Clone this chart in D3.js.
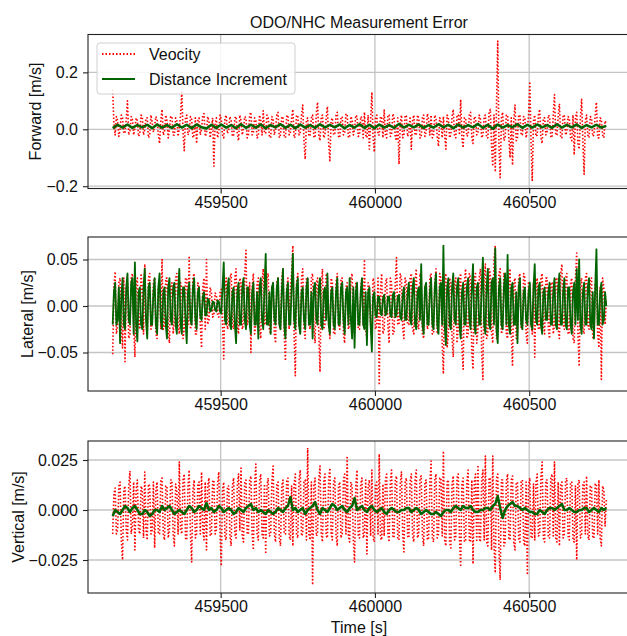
<!DOCTYPE html>
<html>
<head>
<meta charset="utf-8">
<script src="https://cdn.jsdelivr.net/npm/d3@7"></script>
<style>
  body { margin: 0; background: #fff; }
  text { font-family: "Liberation Sans", Arial, sans-serif; }
</style>
</head>
<body>
<div id="chart"></div>
<script>
// time span of the recording [s]
var tStart = 459150;
var tEnd = 460750;

// forward error, velocity based (red dotted) and distance increment based (green)
var forwardVel = [
  0.14, 0.02, -0.02, 0.045, 0.03, -0.025, 0.00, 0.05, 0.04, -0.015, -0.01, 0.035, 0.10, -0.02, -0.005, 0.045, 0.035, -0.02, 0.005, 0.04,
  0.03, -0.025, -0.015, 0.05, 0.045, -0.02, 0.00, 0.04, 0.04, -0.03, -0.02, 0.05, 0.025, -0.01, 0.01, 0.045, 0.035, -0.02, -0.05, 0.03,
  0.07, -0.02, -0.01, 0.05, 0.03, -0.03, 0.00, 0.045, 0.045, -0.02, -0.02, 0.04, 0.03, -0.025, 0.005, 0.05, 0.13, -0.01, -0.075, 0.04,
  0.05, -0.02, -0.01, 0.045, 0.035, -0.03, -0.02, 0.04, -0.05, 0.03, 0.04, -0.02, 0.00, 0.05, 0.055, -0.025, -0.015, 0.045, 0.03, -0.03,
  0.00, 0.04, -0.13, 0.02, 0.04, -0.03, -0.01, 0.05, 0.035, -0.02, -0.03, 0.04, 0.05, -0.015, 0.00, 0.045, 0.03, -0.025, -0.02, 0.04,
  0.045, -0.015, -0.04, 0.05, 0.03, -0.02, 0.005, 0.045, 0.04, -0.03, -0.02, 0.05, 0.06, -0.02, -0.01, 0.04, 0.035, -0.03, -0.025, 0.05,
  0.03, -0.02, 0.065, -0.01, -0.015, 0.05, 0.04, -0.025, -0.03, 0.045, 0.035, -0.02, 0.00, 0.05, 0.06, -0.03, -0.02, 0.045, 0.04, -0.025,
  -0.03, 0.045, 0.05, -0.02, -0.01, 0.04, 0.07, -0.03, -0.025, 0.05, 0.045, -0.02, -0.01, 0.05, 0.085, -0.04, -0.105, 0.03, 0.04, -0.025,
  -0.02, 0.04, 0.05, -0.025, -0.03, 0.055, 0.095, -0.02, -0.04, 0.045, 0.05, -0.03, -0.02, 0.04, 0.08, -0.05, -0.11, 0.03, 0.04, -0.02,
  -0.015, 0.05, 0.06, -0.025, -0.03, 0.04, 0.045, -0.02, -0.01, 0.055, 0.05, -0.03, -0.025, 0.045, 0.035, -0.02, 0.00, 0.05, 0.045, -0.025,
  -0.02, 0.045, 0.04, -0.03, 0.06, -0.02, -0.03, 0.05, -0.07, 0.03, 0.13, -0.03, -0.08, 0.04, 0.05, -0.02, -0.02, 0.045, 0.04, -0.03,
  0.07, -0.02, -0.03, 0.05, 0.05, -0.025, -0.02, 0.055, 0.045, -0.03, -0.04, 0.04, -0.123, 0.02, 0.05, -0.03, -0.02, 0.05, 0.045, -0.025,
  -0.01, 0.045, -0.07, 0.03, 0.05, -0.02, -0.02, 0.05, 0.04, -0.03, -0.03, 0.045, 0.05, -0.025, -0.01, 0.055, 0.035, -0.02, 0.05, -0.03,
  -0.02, 0.05, 0.04, -0.025, -0.06, 0.04, 0.03, -0.03, 0.045, -0.02, -0.07, 0.05, 0.04, -0.03, -0.02, 0.045, 0.07, -0.025, -0.03, 0.05,
  0.05, -0.02, 0.105, -0.03, -0.065, 0.04, 0.04, -0.025, -0.02, 0.05, 0.06, -0.03, -0.05, 0.045, 0.04, -0.02, -0.01, 0.05, 0.035, -0.03,
  -0.02, 0.045, 0.05, -0.03, -0.03, 0.06, 0.07, -0.06, -0.13, 0.05, -0.15, 0.08, 0.31, -0.05, -0.17, 0.04, 0.06, -0.04, -0.03, 0.05,
  0.05, -0.03, -0.10, 0.04, -0.126, 0.03, 0.085, -0.04, -0.03, 0.05, 0.05, -0.02, -0.02, 0.045, 0.04, -0.03, 0.00, 0.05, 0.168, -0.04,
  -0.18, 0.03, 0.05, -0.025, -0.02, 0.05, 0.07, -0.03, -0.05, 0.04, 0.04, -0.02, -0.01, 0.05, 0.045, -0.025, -0.03, 0.05, 0.122, -0.02,
  -0.02, 0.045, 0.09, -0.03, -0.03, 0.05, 0.05, -0.02, -0.01, 0.045, 0.04, -0.03, -0.04, 0.05, -0.09, 0.04, 0.06, -0.05, -0.07, 0.04,
  0.105, -0.04, -0.158, 0.03, 0.05, -0.02, -0.03, 0.045, 0.04, -0.025, -0.02, 0.05, 0.095, -0.03, -0.03, 0.04, 0.035, -0.02, -0.03, 0.03,
  0.02
];
var forwardDist = [
  0.004, 0.016, 0.006, 0.017, 0.005, 0.015, 0.007, 0.016, 0.004, 0.017,
  0.006, 0.015, 0.005, 0.018, 0.006, 0.016, 0.004, 0.017, 0.007, 0.003,
  0.016, 0.005, 0.017, 0.006, 0.015, 0.004, 0.018, 0.005, 0.016, 0.006,
  0.017, 0.004, 0.015, 0.007, 0.018, 0.005, 0.016, 0.004, 0.017, 0.006,
  0.015, 0.005, 0.018, 0.006, 0.016, 0.007, 0.017, 0.004, 0.015, 0.006,
  0.018, 0.005, 0.016, 0.004, 0.017, 0.006, 0.015, 0.005, 0.019, 0.006,
  0.016, 0.007, 0.017, 0.005, 0.015, 0.006, 0.018, 0.007, 0.016, 0.004,
  0.017, 0.006, 0.015, 0.007, 0.019, 0.005, 0.016, 0.002, 0.017, 0.006,
  0.015, 0.007, 0.018, 0.005, 0.016, 0.006, 0.017, 0.007, 0.015, 0.005,
  0.018, 0.006, 0.016, 0.007, 0.017, 0.005, 0.015, 0.007, 0.016, 0.006,
  0.012
];

// lateral error
var lateralVel = [
  -0.052, 0.02, 0.037, -0.03, -0.02, 0.025, 0.03, -0.02, -0.045, 0.03, -0.06, 0.02, 0.025, -0.035, -0.03, 0.03, 0.035, -0.02, -0.055, 0.025,
  0.03, -0.02, -0.025, 0.035, 0.02, -0.03, 0.045, -0.015, -0.03, 0.03, 0.035, -0.025, -0.02, 0.025, 0.03, -0.03, -0.035, 0.02, 0.025, -0.025,
  0.05, -0.025, -0.02, 0.03, 0.03, -0.025, -0.04, 0.02, 0.025, -0.03, -0.015, 0.03, 0.035, -0.02, -0.03, 0.025, 0.02, -0.035, -0.025, 0.03,
  0.03, -0.02, 0.054, -0.025, -0.02, 0.03, 0.035, -0.03, -0.03, 0.025, 0.02, -0.02, -0.045, 0.02, 0.03, -0.025, 0.05, -0.02, -0.015, 0.02,
  0.015, -0.012, -0.01, 0.014, 0.012, -0.01, -0.012, 0.015, 0.018, -0.02, -0.057, 0.02, 0.03, -0.025, -0.02, 0.03, 0.035, -0.02, -0.025, 0.03,
  0.04, -0.02, -0.03, 0.03, 0.025, -0.025, -0.02, 0.035, 0.06, -0.02, -0.015, 0.025, -0.05, 0.02, 0.035, -0.03, -0.02, 0.025, 0.03, -0.025,
  -0.035, 0.025, 0.04, -0.02, -0.02, 0.03, 0.035, -0.025, -0.03, 0.02, 0.025, -0.03, -0.04, 0.025, 0.03, -0.02, -0.025, 0.03, 0.04, -0.03,
  -0.059, 0.02, 0.03, -0.025, 0.02, 0.035, 0.065, -0.03, -0.075, 0.025, 0.035, -0.02, -0.03, 0.03, 0.04, -0.025, -0.035, 0.03, 0.03, -0.02,
  -0.025, 0.03, 0.035, -0.02, -0.04, 0.025, 0.03, -0.03, -0.071, 0.02, 0.04, -0.025, -0.02, 0.035, 0.03, -0.02, -0.035, 0.03, 0.025, -0.03,
  -0.03, 0.025, 0.035, -0.02, -0.025, 0.03, 0.03, -0.03, -0.04, 0.02, 0.025, -0.025, -0.02, 0.03, 0.035, -0.02, -0.03, 0.025, 0.02, -0.025,
  -0.025, 0.02, 0.03, -0.02, 0.05, -0.025, -0.035, 0.025, 0.02, -0.02, -0.03, 0.03, 0.025, -0.025, -0.02, 0.03, -0.085, 0.02, 0.035, -0.03,
  -0.025, 0.025, 0.03, -0.02, -0.04, 0.03, 0.025, -0.03, -0.03, 0.025, 0.052, -0.02, -0.02, 0.035, 0.03, -0.025, -0.035, 0.03, 0.025, -0.02,
  -0.02, 0.03, 0.035, -0.025, -0.03, 0.025, 0.04, -0.02, -0.025, 0.035, 0.03, -0.03, -0.035, 0.02, 0.025, -0.025, -0.02, 0.03, 0.035, -0.03,
  -0.03, 0.025, 0.04, -0.03, -0.025, 0.035, 0.03, -0.04, -0.073, 0.03, 0.035, -0.045, -0.03, 0.03, 0.025, -0.035, -0.055, 0.025, 0.03, -0.04,
  -0.025, 0.03, 0.035, -0.045, -0.068, 0.025, 0.04, -0.035, -0.03, 0.035, 0.03, -0.05, -0.068, 0.03, 0.035, -0.04, -0.025, 0.03, 0.04, -0.05,
  -0.079, 0.03, 0.045, -0.035, -0.03, 0.04, 0.035, -0.03, -0.04, 0.05, 0.065, -0.035, -0.03, 0.035, 0.04, -0.03, -0.025, 0.035, 0.03, -0.03,
  -0.035, 0.03, 0.04, -0.03, -0.065, 0.025, 0.03, -0.035, -0.03, 0.03, 0.035, -0.025, -0.025, 0.035, 0.03, -0.03, -0.04, 0.025, 0.025, -0.02,
  -0.03, 0.025, -0.055, 0.02, 0.03, -0.025, -0.025, 0.03, 0.035, -0.02, -0.03, 0.03, 0.03, -0.025, -0.035, 0.025, 0.025, -0.03, -0.02, 0.03,
  0.03, -0.025, -0.035, 0.035, 0.045, -0.02, -0.025, 0.03, 0.035, -0.03, -0.03, 0.025, 0.03, -0.035, -0.04, 0.03, 0.057, -0.03, -0.065, 0.025,
  0.03, -0.025, -0.03, 0.03, 0.035, -0.02, -0.025, 0.03, 0.03, -0.035, -0.035, 0.025, 0.025, -0.03, -0.045, 0.02, -0.079, 0.03, 0.02, -0.02,
  0.005
];
var lateralDist = [
  -0.02, 0.015, 0.025, -0.02, -0.015, 0.02, -0.04, 0.01, 0.03, -0.02, -0.025, 0.02, 0.035, -0.015, -0.02, 0.025, 0.03, -0.03, 0.047, -0.02,
  -0.038, 0.015, 0.02, -0.02, -0.025, 0.02, 0.04, -0.015, -0.035, 0.02, 0.025, -0.02, -0.02, 0.015, 0.03, -0.02, -0.03, 0.02, 0.035, -0.015,
  -0.025, 0.015, 0.02, -0.02, -0.035, 0.02, 0.03, -0.015, -0.02, 0.02, 0.025, -0.02, -0.03, 0.015, 0.04, -0.02, -0.03, 0.02, 0.02, -0.015,
  -0.04, 0.015, 0.025, -0.015, -0.02, 0.02, 0.03, -0.015, -0.025, 0.015, 0.02, -0.012, -0.015, 0.01, 0.015, -0.01, -0.01, 0.008, 0.006, -0.006,
  -0.005, 0.005, 0.004, -0.004, -0.006, 0.006, 0.005, -0.006, -0.008, 0.02, 0.047, -0.015, -0.02, 0.02, 0.03, -0.02, -0.025, 0.015, 0.02, -0.02,
  -0.04, 0.015, 0.025, -0.02, -0.02, 0.02, 0.03, -0.015, -0.025, 0.02, 0.02, -0.02, -0.03, 0.015, 0.025, -0.02, -0.02, 0.015, -0.035, 0.02,
  0.03, -0.015, -0.025, 0.02, 0.056, -0.02, -0.02, 0.015, -0.03, 0.02, 0.025, -0.015, -0.02, 0.02, 0.03, -0.02, -0.025, 0.015, 0.04, -0.02,
  -0.035, 0.015, 0.025, -0.02, -0.02, 0.02, 0.056, -0.015, -0.025, 0.02, 0.03, -0.02, -0.03, 0.015, 0.02, -0.015, -0.025, 0.02, 0.03, -0.02,
  -0.02, 0.015, -0.035, 0.02, 0.025, -0.015, -0.02, 0.02, 0.03, -0.02, -0.025, 0.015, 0.02, -0.015, 0.035, -0.02, -0.03, 0.015, 0.02, -0.02,
  -0.025, 0.015, 0.03, -0.02, -0.02, 0.02, 0.025, -0.015, -0.03, 0.015, 0.02, -0.02, 0.03, -0.015, -0.035, 0.02, -0.045, 0.015, 0.025, -0.02,
  -0.02, 0.015, 0.03, -0.02, -0.025, 0.015, -0.042, 0.015, 0.02, -0.02, -0.049, 0.01, 0.015, -0.01, -0.012, 0.01, 0.01, -0.008, -0.01, 0.008,
  0.012, -0.01, -0.008, 0.01, 0.01, -0.01, -0.012, 0.012, 0.015, -0.012, -0.01, 0.01, 0.012, -0.012, -0.015, 0.012, 0.02, -0.015, -0.015, 0.015,
  0.025, -0.015, -0.02, 0.02, 0.03, -0.02, -0.025, 0.015, 0.02, -0.015, 0.045, -0.02, -0.03, 0.02, 0.025, -0.02, -0.02, 0.015, 0.03, -0.02,
  -0.025, 0.02, 0.035, -0.02, -0.03, 0.02, 0.025, -0.02, 0.065, -0.02, -0.042, 0.02, 0.03, -0.02, -0.025, 0.02, 0.035, -0.015, -0.02, 0.02,
  0.03, -0.02, -0.035, 0.015, 0.025, -0.02, -0.02, 0.02, 0.03, -0.015, -0.025, 0.02, 0.045, -0.02, -0.03, 0.02, 0.025, -0.02, -0.02, 0.02,
  0.052, -0.02, -0.03, 0.02, 0.04, -0.02, -0.025, 0.025, 0.03, -0.02, 0.062, -0.025, -0.04, 0.02, 0.03, -0.02, -0.025, 0.02, 0.035, -0.02,
  0.055, -0.02, -0.03, 0.02, 0.025, -0.02, -0.02, 0.015, -0.04, 0.02, 0.03, -0.02, -0.025, 0.015, 0.02, -0.015, -0.02, 0.015, 0.025, -0.02,
  -0.025, 0.02, 0.045, -0.015, -0.02, 0.02, 0.025, -0.02, -0.03, 0.015, 0.02, -0.015, -0.015, 0.015, 0.025, -0.02, -0.02, 0.015, 0.03, -0.02,
  -0.025, 0.02, 0.035, -0.02, -0.02, 0.015, 0.03, -0.02, -0.025, 0.02, 0.02, -0.02, -0.03, 0.015, 0.025, -0.02, 0.04, -0.015, 0.05, -0.02,
  -0.03, 0.015, 0.025, -0.02, -0.02, 0.02, 0.03, -0.02, -0.025, 0.015, -0.035, 0.02, 0.061, -0.02, -0.02, 0.015, 0.025, -0.02, -0.015, 0.015,
  0.0
];

// vertical error
var verticalVel = [
  -0.012, 0.008, 0.011, -0.012, -0.01, 0.012, 0.014, -0.015, -0.025, 0.01, 0.012, -0.01, -0.015, 0.012, 0.0195, -0.012, -0.008, 0.014, -0.02, 0.01,
  0.015, -0.01, -0.012, 0.012, 0.01, -0.014, 0.019, -0.01, -0.015, 0.013, 0.012, -0.012, -0.01, 0.014, -0.019, 0.01, 0.014, -0.012, -0.012, 0.015,
  0.016, -0.012, -0.015, 0.012, 0.012, -0.014, -0.01, 0.015, 0.015, -0.012, -0.018, 0.013, 0.01, -0.012, 0.024, -0.01, -0.012, 0.015, 0.018, -0.014,
  -0.015, 0.012, 0.02, -0.012, -0.026, 0.01, 0.015, -0.014, -0.012, 0.013, 0.014, -0.012, 0.019, -0.01, -0.015, 0.014, -0.02, 0.012, 0.016, -0.013,
  -0.012, 0.014, 0.015, -0.012, -0.01, 0.013, 0.019, -0.012, -0.028, 0.01, 0.014, -0.014, -0.015, 0.012, 0.012, -0.013, -0.018, 0.012, 0.016, -0.012,
  -0.014, 0.012, 0.018, -0.01, 0.021, -0.013, -0.016, 0.014, 0.015, -0.012, -0.012, 0.015, 0.017, -0.012, -0.02, 0.013, 0.023, -0.012, -0.015, 0.014,
  0.018, -0.012, -0.014, 0.013, -0.022, 0.012, 0.016, -0.013, -0.012, 0.014, 0.022, -0.012, -0.016, 0.013, 0.014, -0.014, -0.018, 0.012, 0.015, -0.012,
  -0.012, 0.014, 0.016, -0.013, -0.015, 0.012, -0.018, 0.013, 0.018, -0.012, -0.014, 0.015, 0.02, -0.013, -0.012, 0.014, 0.015, -0.015, 0.031, -0.012,
  -0.015, 0.014, -0.0375, 0.012, 0.016, -0.013, -0.012, 0.015, 0.022, -0.012, -0.016, 0.014, 0.018, -0.013, -0.014, 0.015, 0.021, -0.012, -0.015, 0.014,
  0.016, -0.013, -0.018, 0.012, 0.014, -0.014, -0.012, 0.015, 0.018, -0.012, 0.027, -0.013, -0.016, 0.014, 0.012, -0.015, -0.026, 0.012, 0.02, -0.013,
  -0.014, 0.013, 0.016, -0.014, -0.012, 0.015, -0.022, 0.012, 0.015, -0.013, 0.02, -0.014, -0.016, 0.013, 0.014, -0.012, 0.028, -0.014, -0.015, 0.013,
  -0.013, 0.015, 0.018, -0.012, -0.016, 0.014, 0.02, -0.013, -0.014, 0.015, 0.017, -0.014, -0.015, 0.013, 0.019, -0.012, -0.021, 0.014, 0.016, -0.013,
  -0.014, 0.014, 0.018, -0.013, -0.016, 0.015, 0.02, -0.014, -0.012, 0.016, 0.017, -0.013, -0.018, 0.014, 0.015, -0.015, -0.014, 0.013, 0.0245, -0.014,
  -0.016, 0.015, 0.018, -0.014, -0.012, 0.016, 0.016, -0.013, 0.0295, -0.015, -0.018, 0.014, 0.015, -0.016, -0.019, 0.013, 0.017, -0.015, -0.014, 0.016,
  0.018, -0.014, -0.0285, 0.013, 0.016, -0.016, -0.015, 0.014, 0.02, -0.015, -0.016, 0.015, -0.027, 0.014, 0.018, -0.016, 0.0225, -0.014, -0.016, 0.015,
  0.02, -0.015, 0.027, -0.016, -0.018, 0.016, 0.016, -0.02, 0.027, -0.018, -0.0315, 0.016, 0.018, -0.02, -0.035, 0.015, 0.015, -0.018, -0.016, 0.014,
  0.018, -0.014, -0.015, 0.015, 0.017, -0.016, -0.02, 0.013, 0.014, -0.015, -0.016, 0.014, 0.015, -0.016, -0.018, 0.014, -0.0325, 0.012, 0.016, -0.014,
  -0.014, 0.013, -0.015, 0.014, 0.018, -0.013, -0.012, 0.016, 0.024, -0.014, -0.016, 0.015, 0.015, -0.014, -0.014, 0.016, 0.018, -0.013, 0.024, -0.014,
  -0.016, 0.014, -0.018, 0.013, 0.014, -0.014, -0.012, 0.015, 0.016, -0.013, -0.015, 0.014, 0.014, -0.015, -0.016, 0.012, -0.025, 0.013, 0.015, -0.014,
  -0.012, 0.013, 0.014, -0.012, 0.017, -0.013, -0.015, 0.012, 0.012, -0.014, -0.014, 0.013, 0.013, -0.012, 0.015, -0.014, -0.018, 0.012, 0.01, -0.008,
  0.005
];
var verticalDist = [
  -0.003, 0.000, -0.001, -0.002, 0.000, 0.002, 0.001, -0.001, 0.001, 0.002, 0.000, -0.002, -0.002, 0.000, -0.001, -0.003, -0.002, 0.000, 0.000, -0.001,
  0.002, 0.000, 0.001, 0.002, 0.000, -0.002, -0.001, 0.000, -0.001, -0.002, 0.000, 0.002, 0.001, -0.001, 0.000, 0.002, 0.001, 0.000, 0.0035, 0.000,
  0.001, -0.001, 0.000, 0.002, 0.001, -0.001, 0.000, 0.001, 0.000, -0.002, -0.001, 0.001, 0.000, -0.001, 0.001, 0.002, 0.003, 0.000, 0.001, -0.001,
  0.000, -0.001, -0.002, 0.000, -0.001, -0.002, -0.001, 0.001, 0.000, -0.001, 0.001, 0.002, 0.0065, 0.000, 0.001, -0.001, 0.000, 0.001, -0.002, 0.000,
  0.001, 0.002, 0.004, 0.000, -0.002, 0.001, 0.000, -0.001, 0.001, 0.003, 0.002, 0.000, 0.001, 0.002, 0.000, -0.001, 0.001, 0.002, 0.006, 0.000,
  0.001, 0.002, 0.000, -0.001, 0.001, 0.002, 0.000, -0.001, 0.000, 0.001, -0.001, -0.002, 0.000, 0.001, 0.000, -0.001, -0.001, 0.000, 0.000, 0.001,
  0.001, -0.001, 0.000, 0.001, 0.000, -0.002, -0.001, 0.000, -0.001, -0.002, -0.002, -0.001, -0.002, -0.003, -0.001, 0.000, 0.000, -0.001, 0.001, 0.002,
  0.001, 0.000, 0.002, 0.001, 0.001, 0.002, 0.000, -0.001, -0.001, 0.000, 0.000, 0.001, 0.001, 0.000, 0.002, 0.003, 0.007, 0.001, -0.004, 0.000,
  0.002, 0.003, 0.004, 0.002, 0.002, 0.001, 0.000, 0.001, 0.000, -0.001, -0.001, -0.002, -0.002, 0.000, -0.001, -0.002, 0.000, 0.001, 0.001, 0.000,
  0.001, 0.002, 0.003, 0.000, 0.000, 0.001, 0.000, -0.001, -0.001, 0.000, 0.000, 0.001, 0.001, -0.001, 0.000, 0.001, 0.000, -0.001, 0.001, 0.000,
  0.001
];

// tick labels
var xTicks = [459500, 460000, 460500];
var forwardTicks = [-0.2, 0.0, 0.2];
var lateralTicks = [-0.05, 0.0, 0.05];
var verticalTicks = [-0.025, 0.0, 0.025];

var seriesNames = ["Veocity", "Distance Increment"];

var svgWidth = 627;
var svgHeight = 636;
var velColor = "#ff0000";
var distColor = "#006400";
var dotDash = "1.5,2";

var svg = d3.select("#chart")
  .append("svg")
  .attr("width", svgWidth)
  .attr("height", svgHeight);

// shared time axis, right spine falls just outside the picture
var xScale = d3.scaleLinear()
  .domain([459070, 460830])
  .range([88, 631]);

var panels = [
  { vel: forwardVel, dist: forwardDist, ticks: forwardTicks, fmt: ".1f",
    label: "Forward [m/s]", domain: [-0.208, 0.333], top: 34.5, bottom: 188.5, labelX: 41, distWidth: 2.5 },
  { vel: lateralVel, dist: lateralDist, ticks: lateralTicks, fmt: ".2f",
    label: "Lateral [m/s]", domain: [-0.0914, 0.0742], top: 237, bottom: 391, labelX: 33, distWidth: 1.8 },
  { vel: verticalVel, dist: verticalDist, ticks: verticalTicks, fmt: ".3f",
    label: "Vertical [m/s]", domain: [-0.0415, 0.0345], top: 441, bottom: 593, labelX: 24, distWidth: 2.5 }
];

// index -> time stamp for an evenly sampled series
function toPoints(vals) {
  var step = (tEnd - tStart) / (vals.length - 1);
  return vals.map(function(v, i) {
    return [tStart + i * step, v];
  });
}

panels.forEach(function(p) {
  var yScale = d3.scaleLinear()
    .domain(p.domain)
    .range([p.bottom, p.top]);

  var g = svg.append("g");

  // grid lines
  g.selectAll("line.vgrid")
    .data(xTicks)
    .enter()
    .append("line")
    .attr("x1", function(d) { return xScale(d); })
    .attr("x2", function(d) { return xScale(d); })
    .attr("y1", p.top)
    .attr("y2", p.bottom)
    .attr("stroke", "#c4c4c4")
    .attr("stroke-width", 1.3);
  g.selectAll("line.hgrid")
    .data(p.ticks)
    .enter()
    .append("line")
    .attr("x1", 88)
    .attr("x2", svgWidth + 10)
    .attr("y1", function(d) { return yScale(d); })
    .attr("y2", function(d) { return yScale(d); })
    .attr("stroke", "#c4c4c4")
    .attr("stroke-width", 1.3);

  var line = d3.line()
    .x(function(d) { return xScale(d[0]); })
    .y(function(d) { return yScale(d[1]); });

  // velocity based error, dotted red
  g.append("path")
    .datum(toPoints(p.vel))
    .attr("d", line)
    .attr("fill", "none")
    .attr("stroke", velColor)
    .attr("stroke-width", 1.6)
    .attr("stroke-dasharray", dotDash)
    .attr("stroke-linejoin", "round");

  // distance increment based error, solid green
  g.append("path")
    .datum(toPoints(p.dist))
    .attr("d", line)
    .attr("fill", "none")
    .attr("stroke", distColor)
    .attr("stroke-width", p.distWidth)
    .attr("stroke-linejoin", "round");

  // spines
  g.append("rect")
    .attr("x", 88)
    .attr("y", p.top)
    .attr("width", 631 - 88)
    .attr("height", p.bottom - p.top)
    .attr("fill", "none")
    .attr("stroke", "#222")
    .attr("stroke-width", 1.1);

  var xAxis = d3.axisBottom(xScale)
    .tickValues(xTicks)
    .tickFormat(d3.format("d"))
    .tickSize(5)
    .tickPadding(3);
  var yAxis = d3.axisLeft(yScale)
    .tickValues(p.ticks)
    .tickFormat(d3.format(p.fmt))
    .tickSize(5)
    .tickPadding(5);

  var gx = g.append("g")
    .attr("transform", "translate(0," + p.bottom + ")")
    .call(xAxis);
  var gy = g.append("g")
    .attr("transform", "translate(88,0)")
    .call(yAxis);

  [gx, gy].forEach(function(a) {
    a.select(".domain").remove();
    a.selectAll("line").attr("stroke", "#222").attr("stroke-width", 1.1);
    a.selectAll("text")
      .attr("fill", "#111")
      .style("font-size", "16px")
      .style("font-family", "'Liberation Sans', Arial, sans-serif");
  });

  // y axis label
  g.append("text")
    .attr("transform", "translate(" + p.labelX + "," + ((p.top + p.bottom) / 2) + ") rotate(-90)")
    .attr("text-anchor", "middle")
    .attr("font-size", 16)
    .attr("fill", "#111")
    .text(p.label);
});

// title and x label
svg.append("text")
  .attr("x", 359)
  .attr("y", 28)
  .attr("text-anchor", "middle")
  .attr("font-size", 16)
  .attr("fill", "#111")
  .text("ODO/NHC Measurement Error");

svg.append("text")
  .attr("x", 359)
  .attr("y", 633)
  .attr("text-anchor", "middle")
  .attr("font-size", 16)
  .attr("fill", "#111")
  .text("Time [s]");

// legend in the top panel
var legend = svg.append("g");
legend.append("rect")
  .attr("x", 97)
  .attr("y", 43)
  .attr("width", 198)
  .attr("height", 51)
  .attr("rx", 3)
  .attr("fill", "#fff")
  .attr("fill-opacity", 0.85)
  .attr("stroke", "#d0d0d0")
  .attr("stroke-width", 1);

seriesNames.forEach(function(name, i) {
  var ly = 54 + i * 25;
  legend.append("line")
    .attr("x1", 102)
    .attr("x2", 135)
    .attr("y1", ly)
    .attr("y2", ly)
    .attr("stroke", i === 0 ? velColor : distColor)
    .attr("stroke-width", 2)
    .attr("stroke-dasharray", i === 0 ? dotDash : null);
  legend.append("text")
    .attr("x", 149)
    .attr("y", ly + 6)
    .attr("font-size", 16)
    .attr("fill", "#111")
    .text(name);
});
</script>
</body>
</html>
